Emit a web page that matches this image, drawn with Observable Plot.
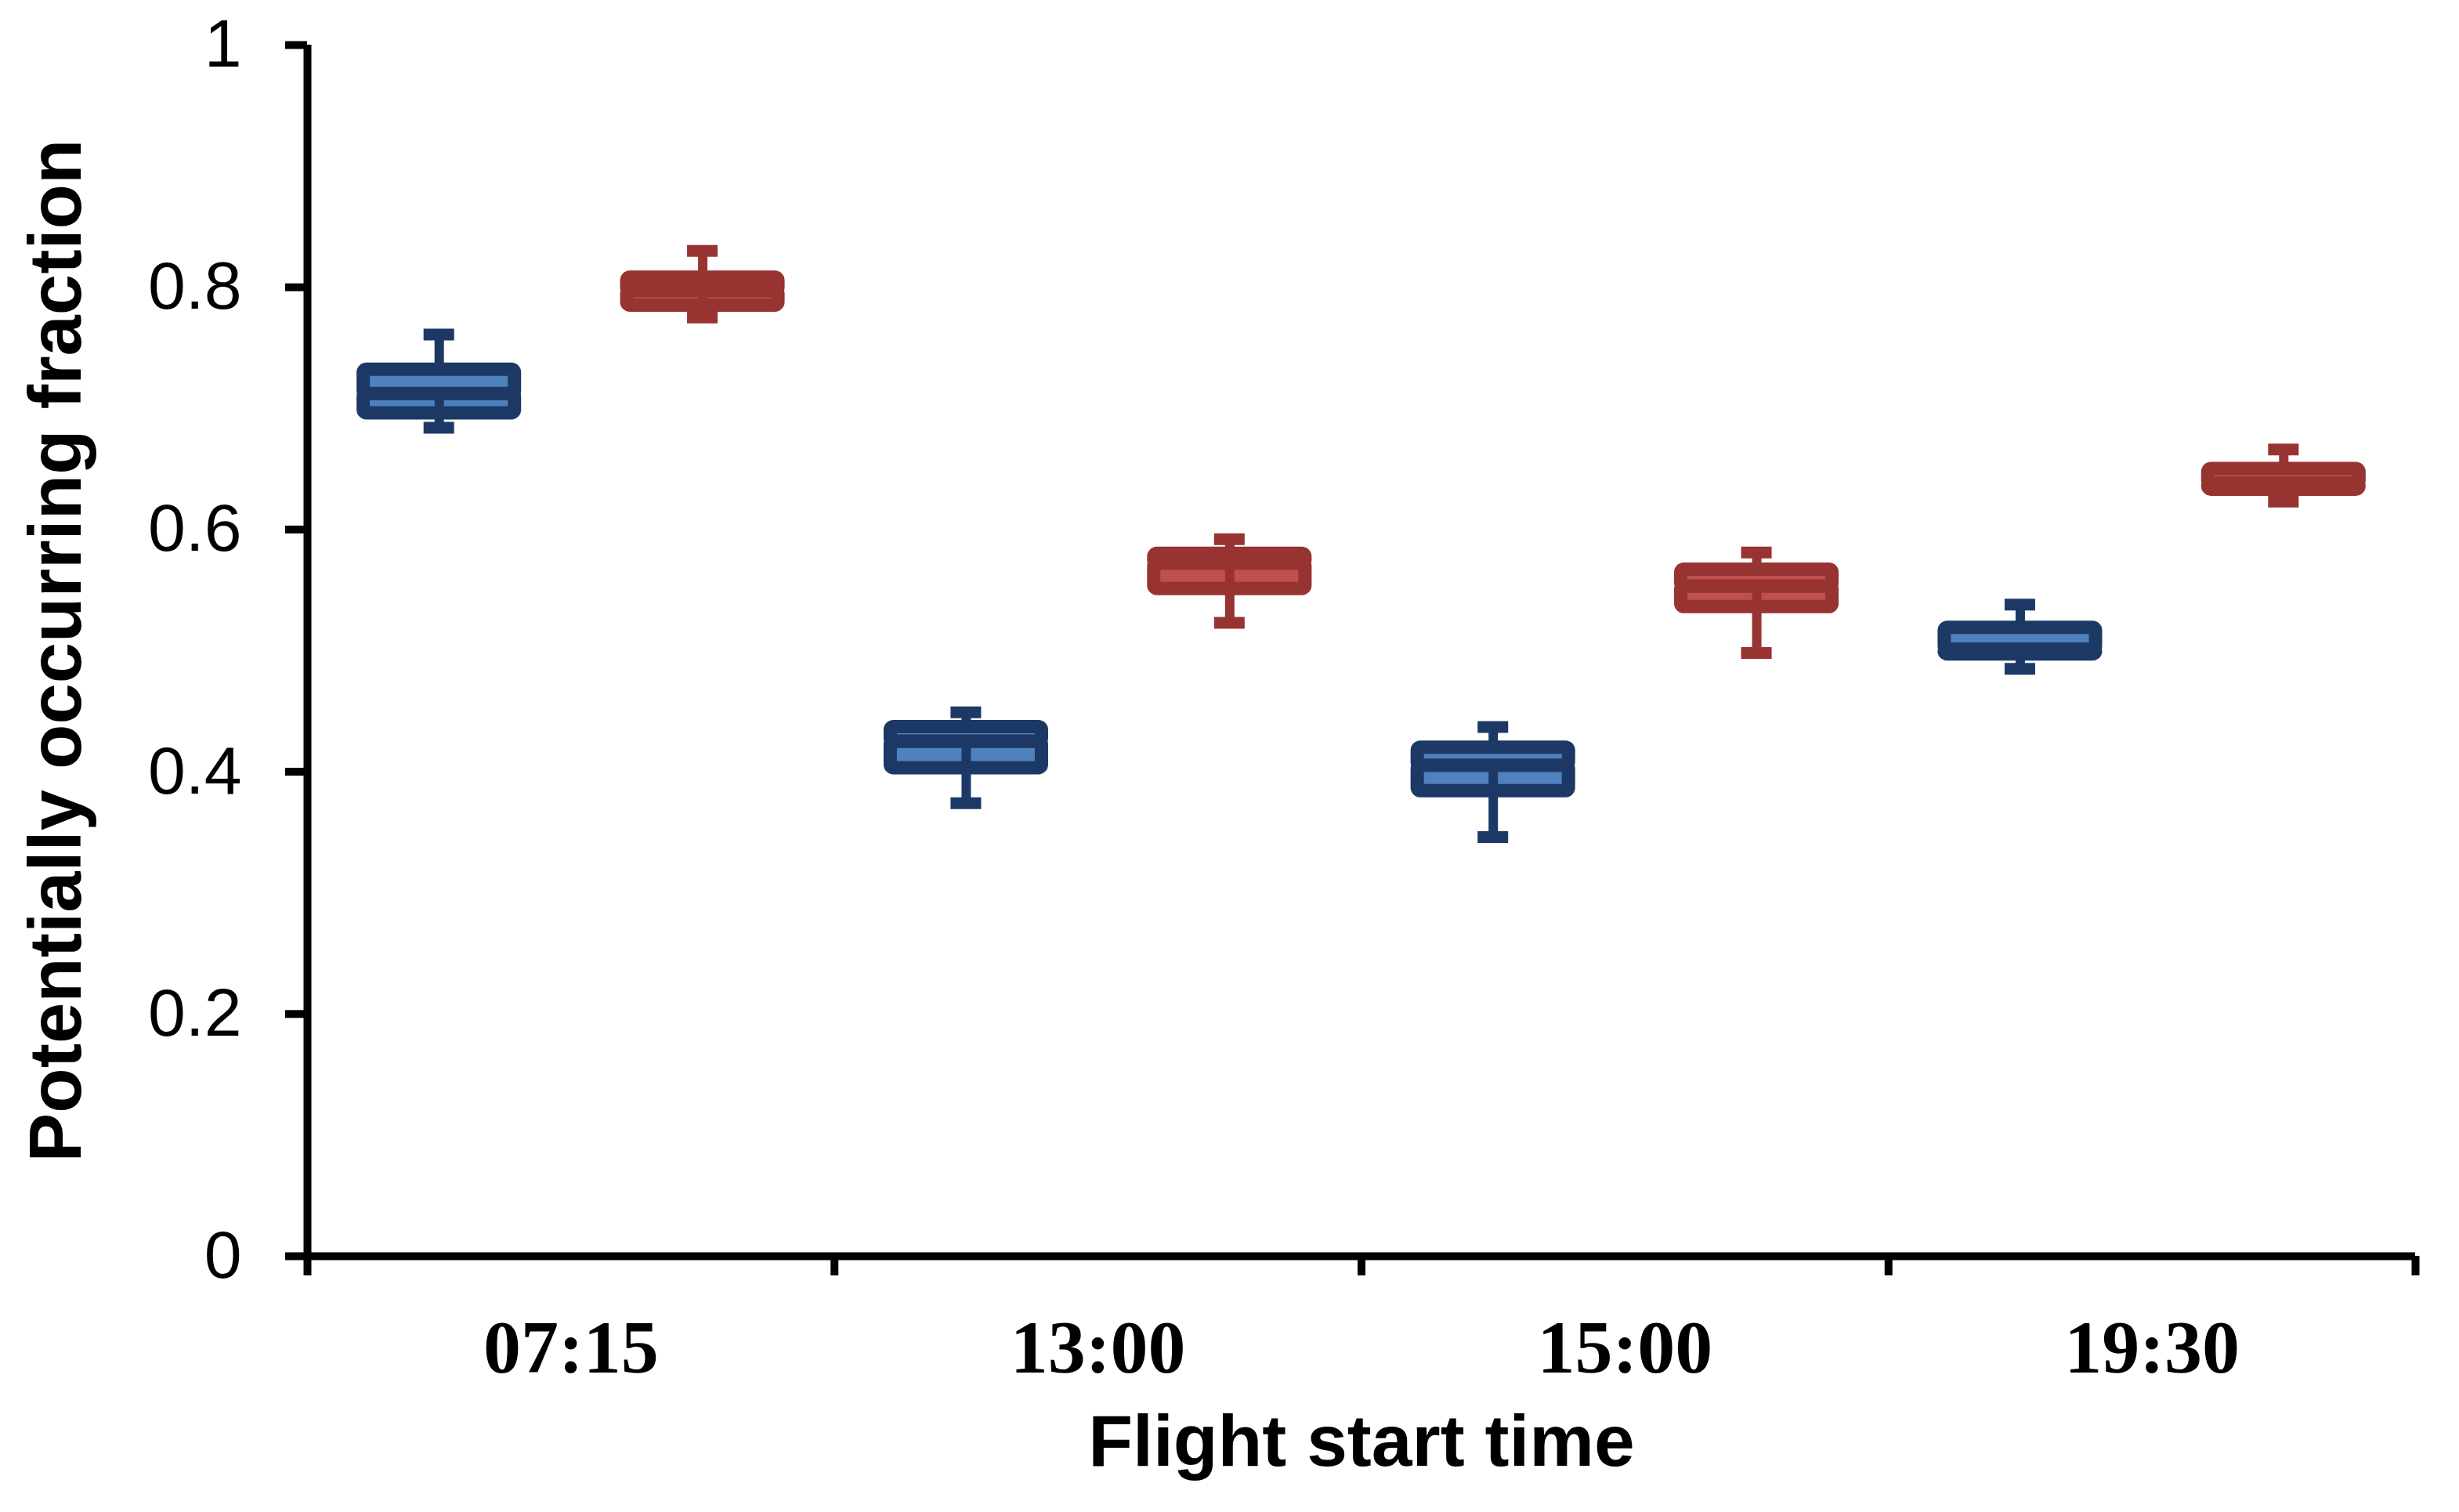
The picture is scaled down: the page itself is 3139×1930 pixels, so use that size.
<!DOCTYPE html>
<html>
<head>
<meta charset="utf-8">
<script src="https://cdn.jsdelivr.net/npm/d3@7"></script>
<script src="https://cdn.jsdelivr.net/npm/@observablehq/plot@0.6"></script>
<style>
  html, body { margin: 0; padding: 0; background: #fff; }
  #chart svg { display: block; }
</style>
</head>
<body>
<div id="chart"></div>
<script>
// ---- data ----
const categories = ["07:15", "13:00", "15:00", "19:30"];
const seriesNames = ["Series 1", "Series 2"];
const yTicks = [0, 0.2, 0.4, 0.6, 0.8, 1];
const xTitle = "Flight start time";
const yTitle = "Potentially occurring fraction";

const blueMax = [0.761, 0.449, 0.437, 0.538];
const blueQ3  = [0.732, 0.437, 0.420, 0.519];
const blueMed = [0.712, 0.425, 0.405, 0.501];
const blueQ1  = [0.696, 0.403, 0.384, 0.497];
const blueMin = [0.684, 0.374, 0.346, 0.485];

const redMax = [0.830, 0.592, 0.581, 0.666];
const redQ3  = [0.808, 0.580, 0.567, 0.650];
const redMed = [0.797, 0.572, 0.553, 0.638];
const redQ1  = [0.785, 0.551, 0.536, 0.633];
const redMin = [0.775, 0.523, 0.498, 0.623];

// ---- styling ----
const dark = ["#1c3966", "#973431"];
const light = ["#4f81bd", "#c0504d"];
const offsets = [0.25, 0.75];
const boxHalf = 0.1435;
const capHalf = 0.029;
const sans = "Arial, 'Liberation Sans', Helvetica, sans-serif";
const serif = "'Times New Roman', 'Liberation Serif', serif";

const stats = [
  [blueMax, blueQ3, blueMed, blueQ1, blueMin],
  [redMax, redQ3, redMed, redQ1, redMin]
];
const rows = [];
stats.forEach((s, si) => {
  categories.forEach((cat, i) => {
    rows.push({
      cat, series: seriesNames[si], si, c: i + offsets[si],
      max: s[0][i], q3: s[1][i], med: s[2][i], q1: s[3][i], min: s[4][i]
    });
  });
});

const marks = [];
// upper whiskers (behind boxes)
[0, 1].forEach(si => {
  const r = rows.filter(d => d.si === si);
  marks.push(Plot.ruleX(r, {x: "c", y1: "q3", y2: "max", stroke: dark[si], strokeWidth: 12}));
  marks.push(Plot.ruleY(r, {y: "max", x1: d => d.c - capHalf, x2: d => d.c + capHalf, stroke: dark[si], strokeWidth: 15}));
});
// boxes
[0, 1].forEach(si => {
  const r = rows.filter(d => d.si === si);
  marks.push(Plot.rect(r, {x1: d => d.c - boxHalf, x2: d => d.c + boxHalf, y1: "q1", y2: "med",
    fill: light[si], stroke: dark[si], strokeWidth: 17, rx: 4}));
  marks.push(Plot.rect(r, {x1: d => d.c - boxHalf, x2: d => d.c + boxHalf, y1: "med", y2: "q3",
    fill: light[si], stroke: dark[si], strokeWidth: 17, rx: 4}));
});
// lower whiskers (over boxes)
[0, 1].forEach(si => {
  const r = rows.filter(d => d.si === si);
  marks.push(Plot.ruleX(r, {x: "c", y1: "med", y2: "min", stroke: dark[si], strokeWidth: 12}));
  marks.push(Plot.ruleY(r, {y: "min", x1: d => d.c - capHalf, x2: d => d.c + capHalf, stroke: dark[si], strokeWidth: 15}));
});

const chart = Plot.plot({
  width: 3139,
  height: 1930,
  marginLeft: 392,
  marginRight: 56,
  marginTop: 57,
  marginBottom: 327,
  style: {background: "#fff", overflow: "visible"},
  x: {domain: [0, categories.length], axis: null},
  y: {domain: [0, 1], axis: null},
  marks: [
    ...marks,
    Plot.axisY({ticks: yTicks, tickSize: 28, tickPadding: 56, strokeWidth: 10,
      tickFormat: d => String(+d.toFixed(1)), fontSize: 86, fontFamily: sans, label: null}),
    Plot.axisX({ticks: d3.range(categories.length + 1), tickSize: 25, strokeWidth: 10,
      tickFormat: () => "", label: null}),
    Plot.axisX({ticks: categories.map((_, i) => i + 0.5), tickSize: 0, tickPadding: 80,
      tickFormat: v => categories[Math.floor(v)], fontSize: 96, fontWeight: "bold",
      fontFamily: serif, label: null}),
    Plot.ruleX([0], {strokeWidth: 10}),
    Plot.ruleY([0], {strokeWidth: 10}),
    Plot.text([yTitle], {frameAnchor: "left", dx: -320, rotate: -90, textAnchor: "middle",
      lineAnchor: "middle", fontSize: 94, fontWeight: "bold", fontFamily: sans}),
    Plot.text([xTitle], {frameAnchor: "bottom", dy: 238, textAnchor: "middle",
      lineAnchor: "middle", fontSize: 93, fontWeight: "bold", fontFamily: sans})
  ]
});
document.getElementById("chart").appendChild(chart);
</script>
</body>
</html>
